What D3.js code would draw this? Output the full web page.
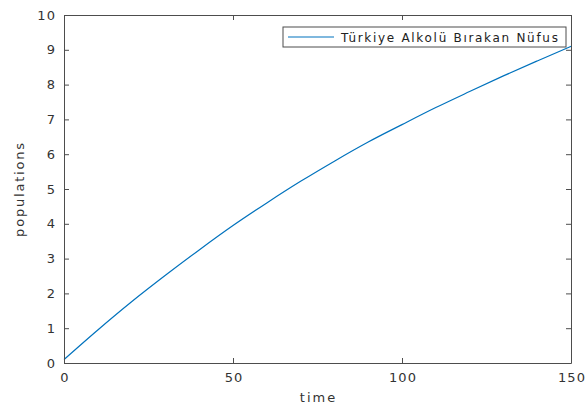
<!DOCTYPE html>
<html>
<head>
<meta charset="utf-8">
<script src="https://cdn.jsdelivr.net/npm/d3@7"></script>
<style>
html,body{margin:0;padding:0;background:#fff;}
svg{display:block;}
text{font-family:"DejaVu Sans",sans-serif;}
</style>
</head>
<body>
<svg id="chart" width="587" height="407"></svg>
<script>
const times = [0,10,20,30,40,50,60,70,80,90,100,110,120,130,140,150];
const populations = [0.1,0.95,1.76,2.52,3.25,3.95,4.6,5.22,5.8,6.35,6.85,7.34,7.8,8.25,8.68,9.1];
const xTicks = [0,50,100,150];
const yTicks = [0,1,2,3,4,5,6,7,8,9,10];
const seriesName = "Türkiye Alkolü Bırakan Nüfus";

const svg = d3.select("#chart");
const L = 64, R = 571, T = 15, B = 363;
const x = d3.scaleLinear().domain([0,150]).range([L,R]);
const y = d3.scaleLinear().domain([0,10]).range([B,T]);
const axisColor = "#4d4d4d";
const ls = 1.2;

svg.append("rect").attr("x",0).attr("y",0).attr("width",587).attr("height",407).attr("fill","#fff");

// line
svg.append("path")
  .datum(times.map((t,i)=>[t,populations[i]]))
  .attr("fill","none").attr("stroke","#0072BD").attr("stroke-width",1.2)
  .attr("d", d3.line().x(d=>x(d[0])).y(d=>y(d[1])).curve(d3.curveMonotoneX));

function styleAxis(g){
  g.select(".domain").attr("stroke",axisColor);
  g.selectAll(".tick line").attr("stroke",axisColor);
  g.selectAll(".tick text").attr("fill","#333").attr("font-size",13)
    .attr("font-family","DejaVu Sans, sans-serif").attr("letter-spacing",ls);
}
const gx = svg.append("g").attr("transform",`translate(0,${B})`)
  .call(d3.axisBottom(x).tickValues(xTicks).tickSizeInner(-5).tickSizeOuter(0).tickPadding(10));
styleAxis(gx);
gx.selectAll(".tick text").attr("dx", ls/2);
const gy = svg.append("g").attr("transform",`translate(${L},0)`)
  .call(d3.axisLeft(y).tickValues(yTicks).tickSizeInner(-5).tickSizeOuter(0).tickPadding(9));
styleAxis(gy);
gy.selectAll(".tick text").attr("dx", ls);
const gx2 = svg.append("g").attr("transform",`translate(0,${T})`)
  .call(d3.axisTop(x).tickValues(xTicks).tickSizeInner(-5).tickSizeOuter(0).tickFormat(""));
styleAxis(gx2);
const gy2 = svg.append("g").attr("transform",`translate(${R},0)`)
  .call(d3.axisRight(y).tickValues(yTicks).tickSizeInner(-5).tickSizeOuter(0).tickFormat(""));
styleAxis(gy2);

// axis labels
svg.append("text").attr("x",(L+R)/2 + 1).attr("y",402).attr("text-anchor","middle")
  .attr("font-size",13).attr("letter-spacing",2).attr("fill","#333").text("time");
svg.append("text").attr("transform",`translate(24,${(T+B)/2}) rotate(-90)`).attr("text-anchor","middle")
  .attr("font-size",13).attr("letter-spacing",1.8).attr("fill","#333").text("populations");

// legend
const lg = svg.append("g");
lg.append("rect").attr("x",283).attr("y",27).attr("width",283).attr("height",20)
  .attr("fill","#fff").attr("stroke",axisColor).attr("stroke-width",1);
lg.append("line").attr("x1",288).attr("x2",334).attr("y1",37).attr("y2",37)
  .attr("stroke","#0072BD").attr("stroke-width",1.2);
lg.append("text").attr("x",341).attr("y",41.5).attr("font-size",12).attr("letter-spacing",1.7)
  .attr("fill","#222").text(seriesName);
</script>
</body>
</html>
